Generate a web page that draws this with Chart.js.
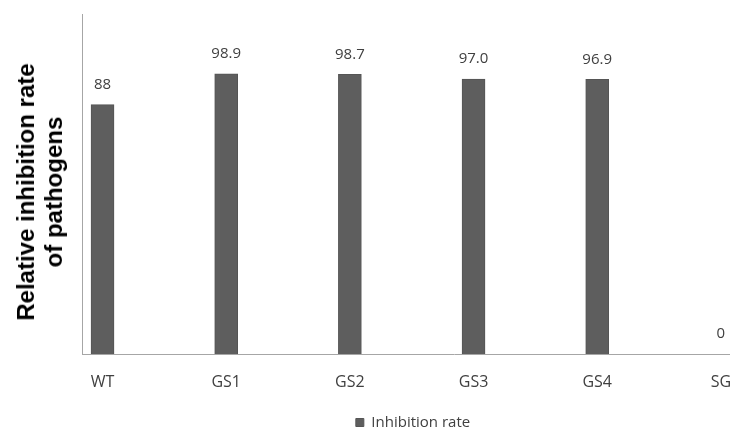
<!DOCTYPE html>
<html>
<head>
<meta charset="utf-8">
<script src="https://cdn.jsdelivr.net/npm/chart.js@4/dist/chart.umd.min.js"></script>
<style>
  html, body { margin: 0; padding: 0; background: #fff; overflow: hidden; }
  #wrap { position: relative; width: 730px; height: 433px; overflow: hidden; }
  #box { position: absolute; left: 0; top: 0; width: 826px; height: 433px; }
  #ytitle {
    position: absolute; left: 40px; top: 192px;
    transform: translate(-50%, -50%) rotate(-90deg);
    font: bold 24px "Liberation Sans", Arial, sans-serif;
    line-height: 28px; text-align: center; white-space: nowrap; color: #000;
  }
</style>
</head>
<body>
<div id="wrap">
  <div id="box"><canvas id="chart" width="826" height="433"></canvas></div>
  <div id="ytitle">Relative inhibition rate<br>of pathogens</div>
</div>
<script>
// strains and their inhibition rates (labels printed as in the table)
const strains = ["WT", "GS1", "GS2", "GS3", "GS4", "SG"]
const rateText = ["88", "98.9", "98.7", "97.0", "96.9", "0"]
const rates = rateText.map(Number)
const seriesName = "Inhibition rate"
const barColor = "#5e5e5e"
const textColor = "#404040"
const axisColor = "#a6a6a6"

// value labels above each bar
const valueLabels = {
    id: 'valueLabels',
    afterDatasetsDraw(chart) {
        const ctx = chart.ctx
        const meta = chart.getDatasetMeta(0)
        ctx.save()
        ctx.font = '15px "Open Sans", sans-serif'
        ctx.fillStyle = textColor
        ctx.textAlign = 'center'
        ctx.textBaseline = 'middle'
        meta.data.forEach((bar, i) => {
            ctx.fillText(rateText[i], bar.x, bar.y - 20)
        })
        ctx.restore()
    }
}

new Chart(document.getElementById("chart"), {
    type: 'bar',
    data: {
        datasets: [{
            label: seriesName,
            data: rates.map((v, i) => ({ x: i, y: v })),
            backgroundColor: barColor,
            borderColor: "#555555",
            borderWidth: 1,
            barThickness: 23
        }]
    },
    options: {
        responsive: false,
        animation: false,
        layout: { padding: { left: 0, top: 14, right: 0, bottom: -7 } },
        scales: {
            x: {
                type: 'linear',
                offset: false,
                min: -0.166,
                max: 5.85,
                grid: { display: false },
                border: { display: true, color: axisColor, width: 1 },
                afterBuildTicks: (scale) => { scale.ticks = strains.map((s, i) => ({ value: i })) },
                ticks: {
                    padding: 11,
                    color: textColor,
                    font: { family: '"Open Sans", sans-serif', size: 16 },
                    callback: (v) => strains[v]
                },
                afterFit: (scale) => { scale.height = 61 }
            },
            y: {
                min: 0,
                max: 120,
                grid: { display: false },
                border: { display: true, color: axisColor, width: 1 },
                ticks: { display: false },
                afterFit: (scale) => { scale.width = 82 }
            }
        },
        plugins: {
            legend: {
                position: 'bottom',
                labels: {
                    boxWidth: 8,
                    boxHeight: 8,
                    padding: 0,
                    color: textColor,
                    font: { family: '"Open Sans", sans-serif', size: 15 }
                }
            },
            tooltip: { enabled: false }
        }
    },
    plugins: [valueLabels]
});
</script>
</body>
</html>
